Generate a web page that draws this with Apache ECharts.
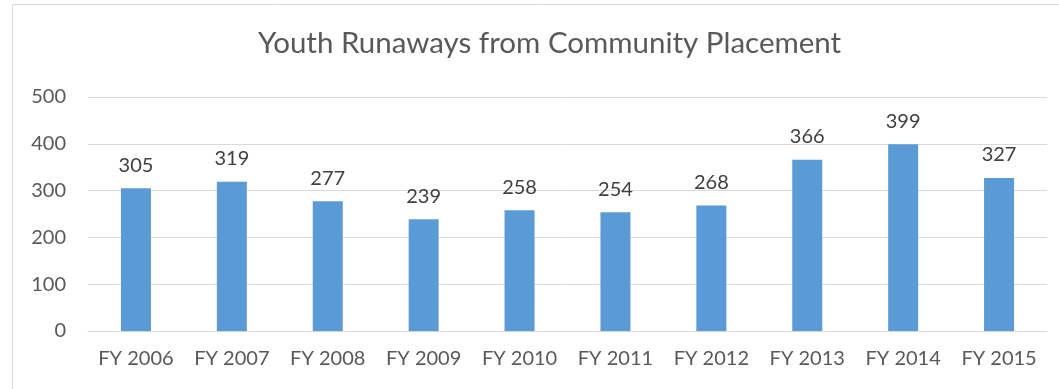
<!DOCTYPE html>
<html>
<head>
<meta charset="utf-8">
<script src="https://cdn.jsdelivr.net/npm/echarts@6/dist/echarts.min.js"></script>
<style>
  html, body { margin: 0; padding: 0; background: #fff; }
  #chart { width: 1059px; height: 389px; }
</style>
</head>
<body>
<div id="chart"></div>
<script>
// Fiscal years and the number of youth runaways recorded in each
const categories = ['FY 2006', 'FY 2007', 'FY 2008', 'FY 2009', 'FY 2010',
                    'FY 2011', 'FY 2012', 'FY 2013', 'FY 2014', 'FY 2015'];
const runaways = [305, 319, 277, 239, 258, 254, 268, 366, 399, 327];
const yTicks = [0, 100, 200, 300, 400, 500];

const FONT = 'Lato, "Open Sans", sans-serif';
const chart = echarts.init(document.getElementById('chart'), null, { renderer: 'canvas' });

chart.setOption({
  animation: false,
  backgroundColor: '#ffffff',
  graphic: [{
    type: 'rect',
    shape: { x: 12.5, y: 4.5, width: 1100, height: 500 },
    style: { fill: 'none', stroke: '#d9d9d9', lineWidth: 1 },
    silent: true
  }],
  title: {
    text: 'Youth Runaways from Community Placement',
    left: 253,
    top: 23,
    textStyle: { fontFamily: FONT, fontSize: 29.5, fontWeight: 'normal', color: '#595959' }
  },
  grid: { left: 88, right: 12, top: 97, bottom: 58, containLabel: false },
  xAxis: {
    type: 'category',
    data: categories,
    axisLine: { show: true, lineStyle: { color: '#d9d9d9', width: 1 } },
    axisTick: { show: false },
    axisLabel: { interval: 0, fontFamily: FONT, fontSize: 20, color: '#595959', margin: 18 }
  },
  yAxis: {
    type: 'value',
    min: yTicks[0],
    max: yTicks[yTicks.length - 1],
    interval: yTicks[1] - yTicks[0],
    axisLine: { show: false },
    axisTick: { show: false },
    splitLine: { lineStyle: { color: '#d9d9d9', width: 1 } },
    axisLabel: { fontFamily: FONT, fontSize: 20, color: '#595959', margin: 22 }
  },
  series: [{
    type: 'bar',
    data: runaways,
    barWidth: 30,
    itemStyle: { color: '#5b9bd5' },
    label: {
      show: true,
      position: 'top',
      distance: 13,
      fontFamily: FONT,
      fontSize: 20,
      color: '#404040'
    }
  }]
});
</script>
</body>
</html>
